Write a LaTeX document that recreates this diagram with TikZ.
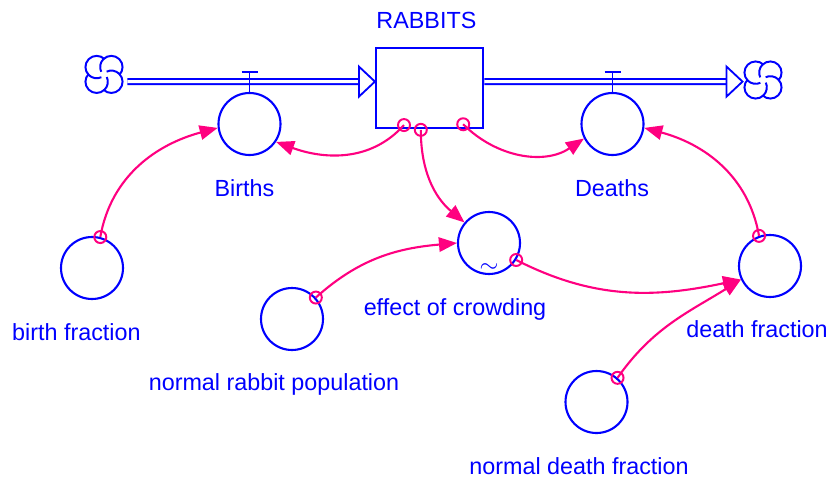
\documentclass[tikz,border=0pt]{standalone}
\usepackage{fontspec}
\setmainfont{Liberation Sans}
\usetikzlibrary{arrows.meta, calc}
\definecolor{sdblue}{RGB}{0,0,255}
\definecolor{sdpink}{RGB}{255,0,128}
\tikzset{
  auxvar/.style={
    circle, draw=sdblue, line width=1.5pt, minimum size=1.55cm, inner sep=0pt
  },
  stockbox/.style={
    rectangle, draw=sdblue, line width=1.5pt,
    minimum width=2.68cm, minimum height=2cm, inner sep=0pt
  },
  varlabel/.style={
    anchor=base, text=sdblue, inner sep=0pt,
    font=\fontsize{16.6}{20}\selectfont
  },
  linkring/.style={
    circle, draw=sdpink, line width=1.4pt, minimum size=0.3cm, inner sep=0pt
  },
  linkarrow/.style={
    -{Triangle[length=0.45cm, width=0.36cm]}, draw=sdpink, line width=1.5pt
  },
  pipe/.style={
    draw=sdblue, double=white, double distance=0.08cm, line width=1.3pt
  },
  pipetip/.style={draw=sdblue, fill=white, line width=1.3pt, line join=miter},
  valvestem/.style={draw=sdblue, line width=1.4pt},
  cloudspot/.style={circle, minimum size=0.95cm, inner sep=0pt},
  sdcloud/.pic={
    \foreach \a in {45,135,225,315}
      \draw[sdblue, line width=1.4pt] (\a:0.26) ++(\a-90:0.28)
        arc[start angle=\a-90, delta angle=250, radius=0.28];
  },
}

\begin{document}
\begin{tikzpicture}
  \useasboundingbox (0,0) rectangle (20.7,-11.975);

  % --- Stock and flows ---
  \node[stockbox] (rabbits) at (10.74,-2.2) {};
  \node[varlabel] (rabbitsLbl) at (10.66,-0.7) {RABBITS};

  \node[cloudspot] (srcCloud) at (2.6,-1.86) {};
  \pic at (srcCloud) {sdcloud};
  \node[cloudspot] (sinkCloud) at (19.075,-2.0) {};
  \pic at (sinkCloud) {sdcloud};

  \coordinate (inTip) at ($(rabbits.west)+(0,0.16)$);
  \coordinate (outStart) at ($(rabbits.east)+(0,0.16)$);
  \coordinate (outTip) at ($(sinkCloud.west)+(-0.03,-0.04)$);

  \draw[pipe] ($(srcCloud.east)+(0.1,-0.18)$) -- ($(inTip)+(-0.4,0)$);
  \draw[pipetip] (inTip) -- ++(-0.4,0.375) -- ++(0,-0.75) -- cycle;
  \draw[pipe] (outStart) -- ($(outTip)+(-0.4,0)$);
  \draw[pipetip] (outTip) -- ++(-0.4,0.375) -- ++(0,-0.75) -- cycle;

  % --- Rates ---
  \node[auxvar] (births) at (6.2375,-3.1) {};
  \node[varlabel] (birthsLbl) at (6.11,-4.9) {Births};
  \draw[valvestem] (births.north) -- ++(0,0.5) ++(-0.2,0) -- ++(0.4,0);

  \node[auxvar] (deaths) at (15.3125,-3.1) {};
  \node[varlabel] (deathsLbl) at (15.3,-4.9) {Deaths};
  \draw[valvestem] (deaths.north) -- ++(0,0.5) ++(-0.2,0) -- ++(0.4,0);

  % --- Auxiliaries ---
  \node[auxvar] (birthfrac) at (2.3,-6.7) {};
  \node[varlabel] (birthfracLbl) at (1.91,-8.5) {birth fraction};

  \node[auxvar] (normpop) at (7.3,-7.975) {};
  \node[varlabel] (normpopLbl) at (6.85,-9.75) {normal rabbit population};

  \node[auxvar] (effect) at (12.225,-6.075) {};
  \node[varlabel] (effectLbl) at (11.375,-7.875) {effect of crowding};
  \node[text=sdblue, inner sep=0pt, font=\LARGE] (effectTilde)
    at ([yshift=0.18cm]effect.south) {$\sim$};

  \node[auxvar] (deathfrac) at (19.25,-6.65) {};
  \node[varlabel] (deathfracLbl) at (18.925,-8.425) {death fraction};

  \node[auxvar] (normdeath) at (14.9125,-10.05) {};
  \node[varlabel] (normdeathLbl) at (14.475,-11.85) {normal death fraction};

  % --- Links ---
  \node[linkring] (r1) at (birthfrac.75) {};
  \node[linkring] (r2) at ($(rabbits.south)+(-0.64,0.1)$) {};
  \node[linkring] (r3) at ($(rabbits.south)+(-0.22,-0.02)$) {};
  \node[linkring] (r4) at ($(rabbits.south)+(0.84,0.12)$) {};
  \node[linkring] (r5) at (deathfrac.110) {};
  \node[linkring] (r6) at (normpop.42) {};
  \node[linkring] (r7) at (effect.328) {};
  \node[linkring] (r8) at (normdeath.49) {};

  \draw[linkarrow] (r1.center) to[out=80, in=195] (births.187);
  \draw[linkarrow] (r2.center) to[out=228, in=-20] (births.326);
  \draw[linkarrow] (r3.center) to[out=-90, in=140] (effect.140);
  \draw[linkarrow] (r4.center) to[out=-45, in=214] (deaths.207);
  \draw[linkarrow] (r5.center) to[out=100, in=-15] (deaths.353);
  \draw[linkarrow] (r6.center) to[out=42, in=185] (effect.180);
  \draw[linkarrow] (r7.center) to[out=-27, in=192] (deathfrac.205);
  \draw[linkarrow] (r8.center) to[out=55, in=212] (deathfrac.205);
\end{tikzpicture}
\end{document}
